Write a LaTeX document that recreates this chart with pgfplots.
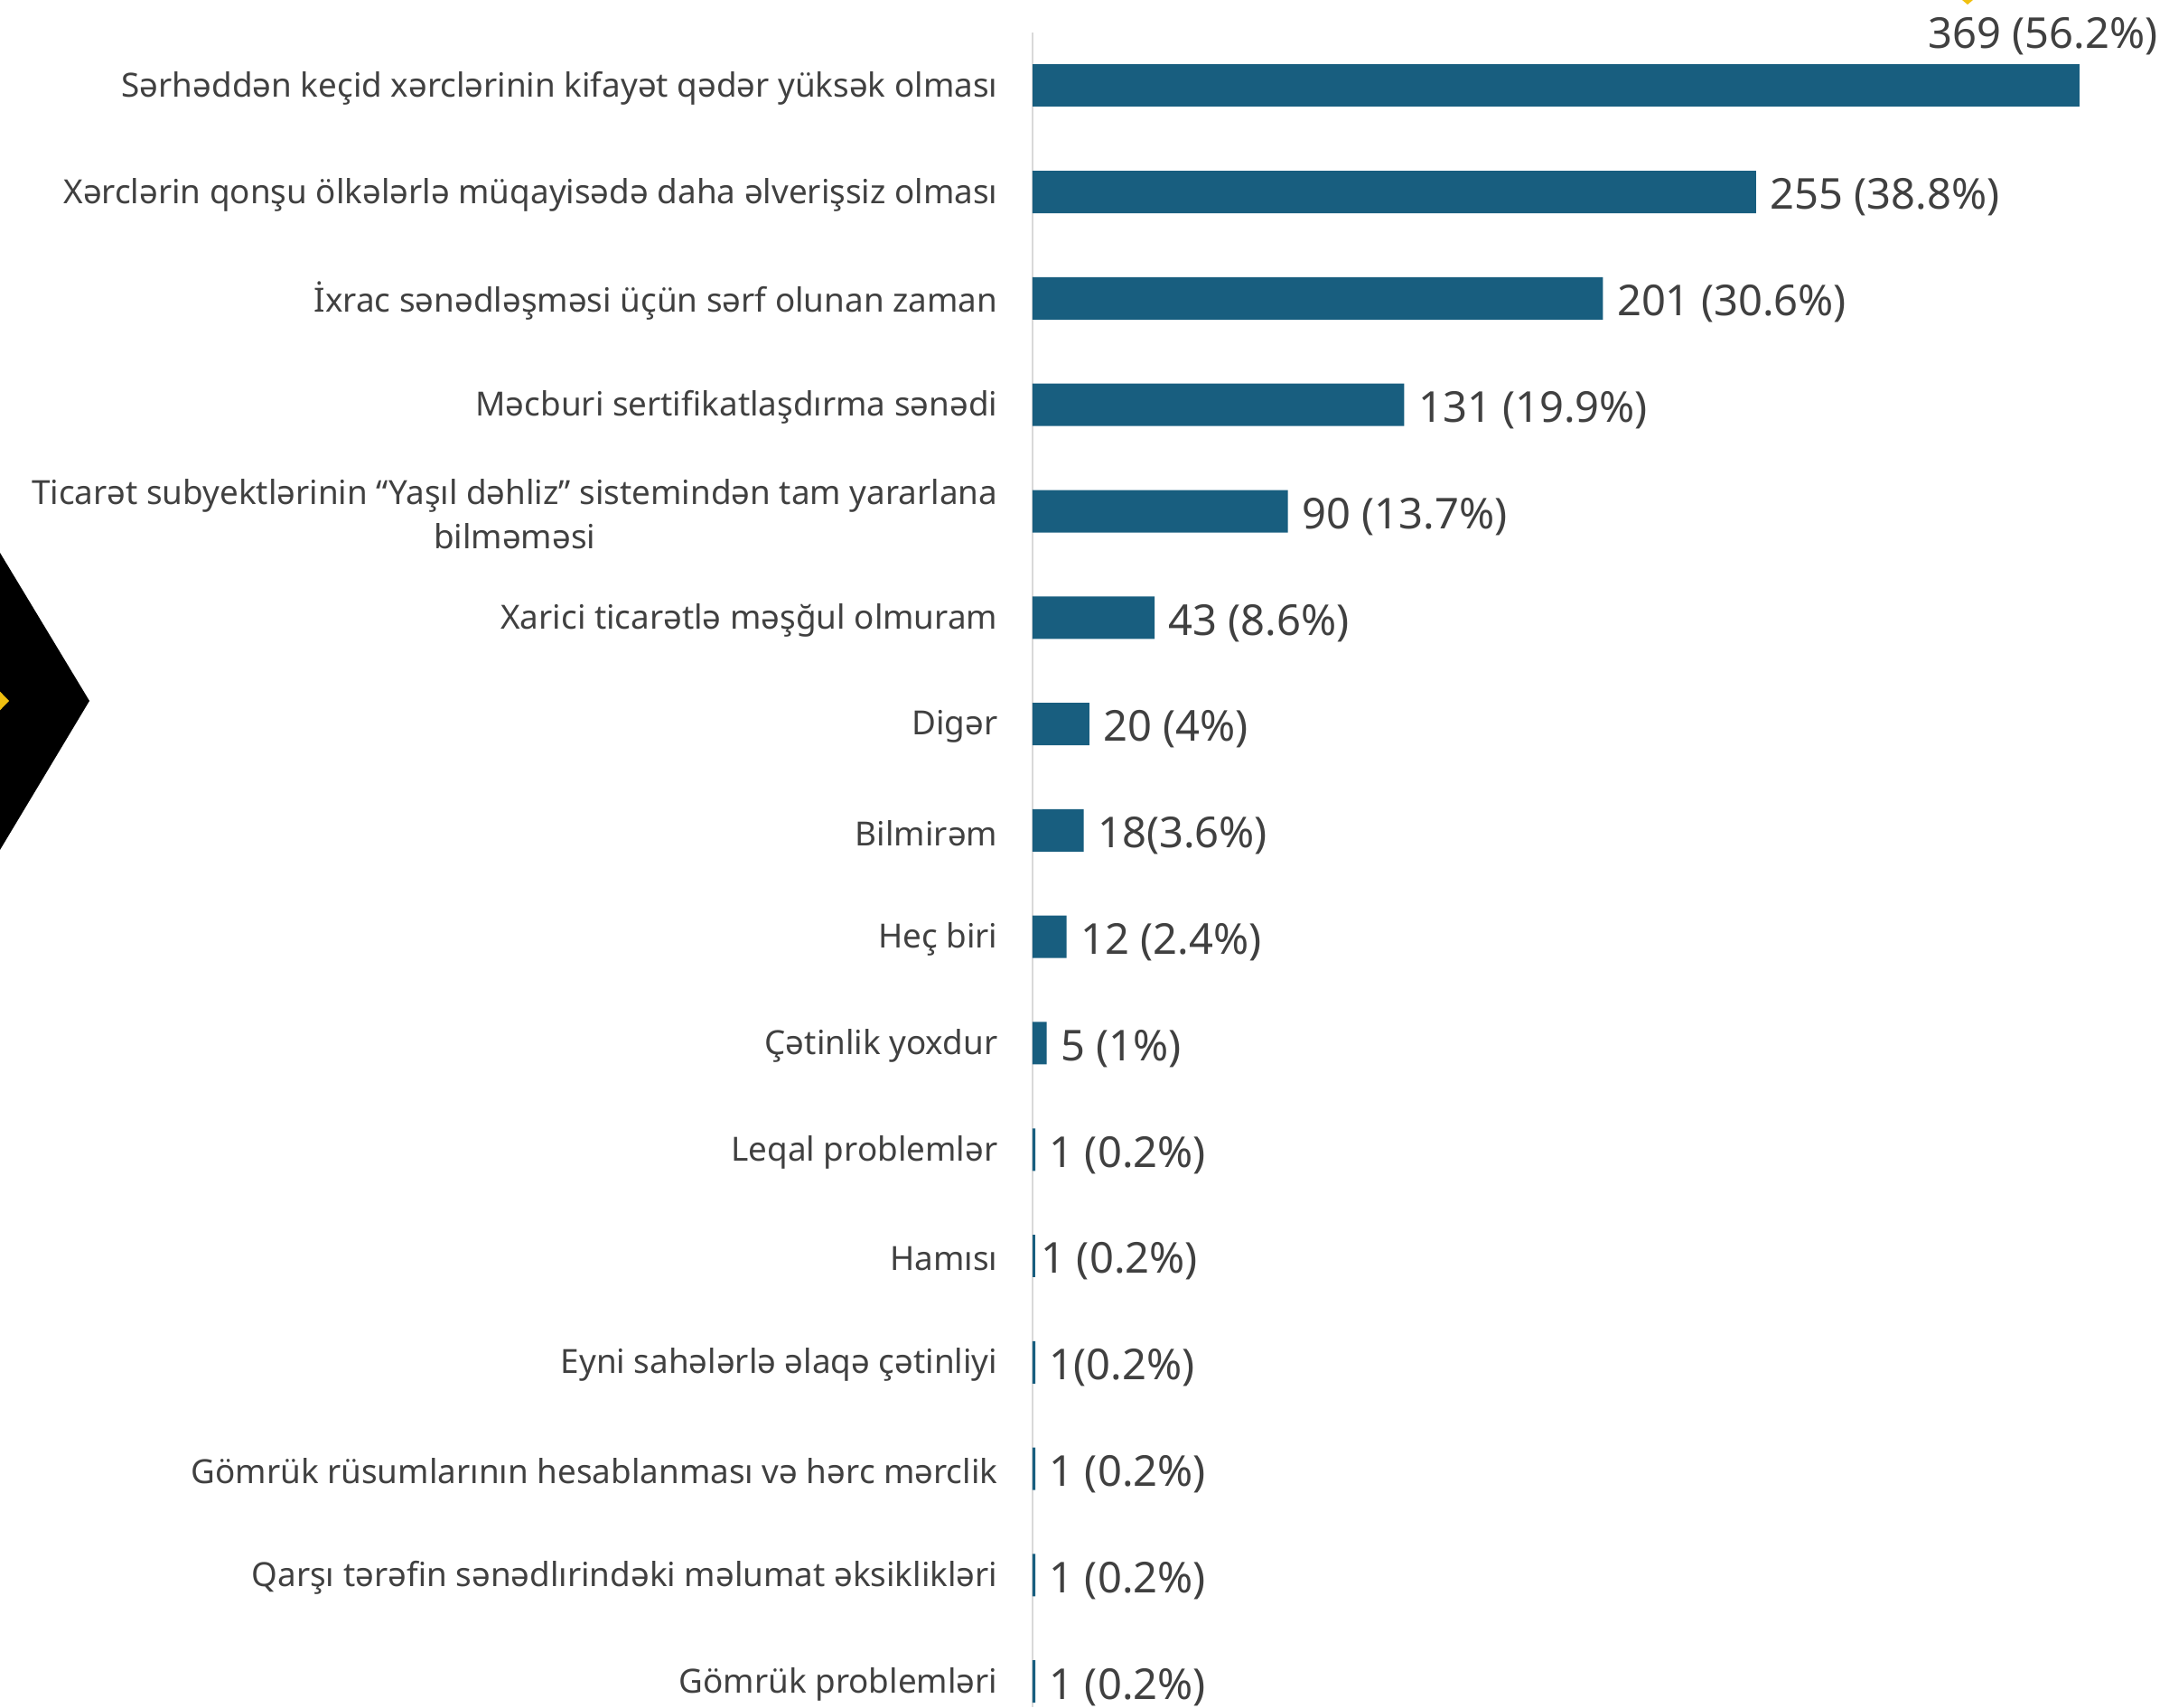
\documentclass[border=0pt]{standalone}
\usepackage{pgfplots}
\pgfplotsset{compat=1.18}
\usepackage{fontspec}
\setmainfont{Noto Sans}
\definecolor{barblue}{RGB}{24,94,127}
\definecolor{txt}{RGB}{64,64,64}
\definecolor{axgray}{RGB}{217,217,217}
\definecolor{gold}{RGB}{240,192,16}
\begin{document}
\begin{tikzpicture}[x=1cm,y=1cm]
\clip (0,0) rectangle (24.01,18.9);
\fill[black] (0,12.78) -- (0.99,11.14) -- (0,9.49) -- cycle;
\fill[gold] (-0.2,11.45) -- (0.10,11.14) -- (-0.2,10.83) -- cycle;
\fill[gold] (21.60,19.0) -- (21.78,18.85) -- (21.96,19.0) -- cycle;
\begin{axis}[
  at={(11.43cm,0cm)}, anchor=south west,
  scale only axis, width=12.58cm, height=18.54cm,
  xmin=0, xmax=400.5, ymin=-0.24, ymax=15.5,
  xbar, bar width=0.47cm, bar shift=0pt,
  axis x line=none, axis y line*=left,
  axis line style={draw=axgray, line width=0.6pt, -},
  ytick={0,...,15},
  yticklabels={
    {Gömrük problemləri},
    {Qarşı tərəfin sənədlırindəki məlumat əksiklikləri},
    {Gömrük rüsumlarının hesablanması və hərc mərclik},
    {Eyni sahələrlə əlaqə çətinliyi},
    {Hamısı},
    {Leqal problemlər},
    {Çətinlik yoxdur},
    {Heç biri},
    {Bilmirəm},
    {Digər},
    {Xarici ticarətlə məşğul olmuram},
    {{Ticarət subyektlərinin “Yaşıl dəhliz” sistemindən tam yararlana\\bilməməsi}},
    {Məcburi sertifikatlaşdırma sənədi},
    {İxrac sənədləşməsi üçün sərf olunan zaman},
    {Xərclərin qonşu ölkələrlə müqayisədə daha əlverişsiz olması},
    {Sərhəddən keçid xərclərinin kifayət qədər yüksək olması}},
  major tick length=0pt,
  yticklabel style={anchor=east, inner sep=0pt, xshift=-0.38cm, yshift=-0.03cm, align=center,
    font=\fontsize{10.48pt}{14pt}\selectfont, text=txt},
  clip=false,
  point meta=explicit symbolic,
  nodes near coords,
  every node near coord/.append style={anchor=west, inner sep=0pt, xshift=0.15cm, yshift=-0.06cm,
    font=\fontsize{13.4pt}{16pt}\selectfont, text=txt},
]
\addplot[fill=barblue, draw=none] coordinates {
  (255,14) [255 (38.8\%)]
  (201,13) [201 (30.6\%)]
  (131,12) [131 (19.9\%)]
  (90,11) [90 (13.7\%)]
  (43,10) [43 (8.6\%)]
  (20,9) [20 (4\%)]
  (18,8) [18(3.6\%)]
  (12,7) [12 (2.4\%)]
  (5,6) [5 (1\%)]
  (1,5) [1 (0.2\%)]
  (1,3) [1(0.2\%)]
  (1,2) [1 (0.2\%)]
  (1,1) [1 (0.2\%)]
  (1,0) [1 (0.2\%)]
};
\addplot[fill=barblue, draw=none,
  every node near coord/.append style={xshift=-0.09cm}]
  coordinates {(1,4) [1 (0.2\%)]};
\addplot[fill=barblue, draw=none,
  every node near coord/.append style={anchor=east, xshift=0.72cm, yshift=0.61cm}]
  coordinates {(369,15) [369 (56.2\%)]};
\end{axis}
\end{tikzpicture}
\end{document}
